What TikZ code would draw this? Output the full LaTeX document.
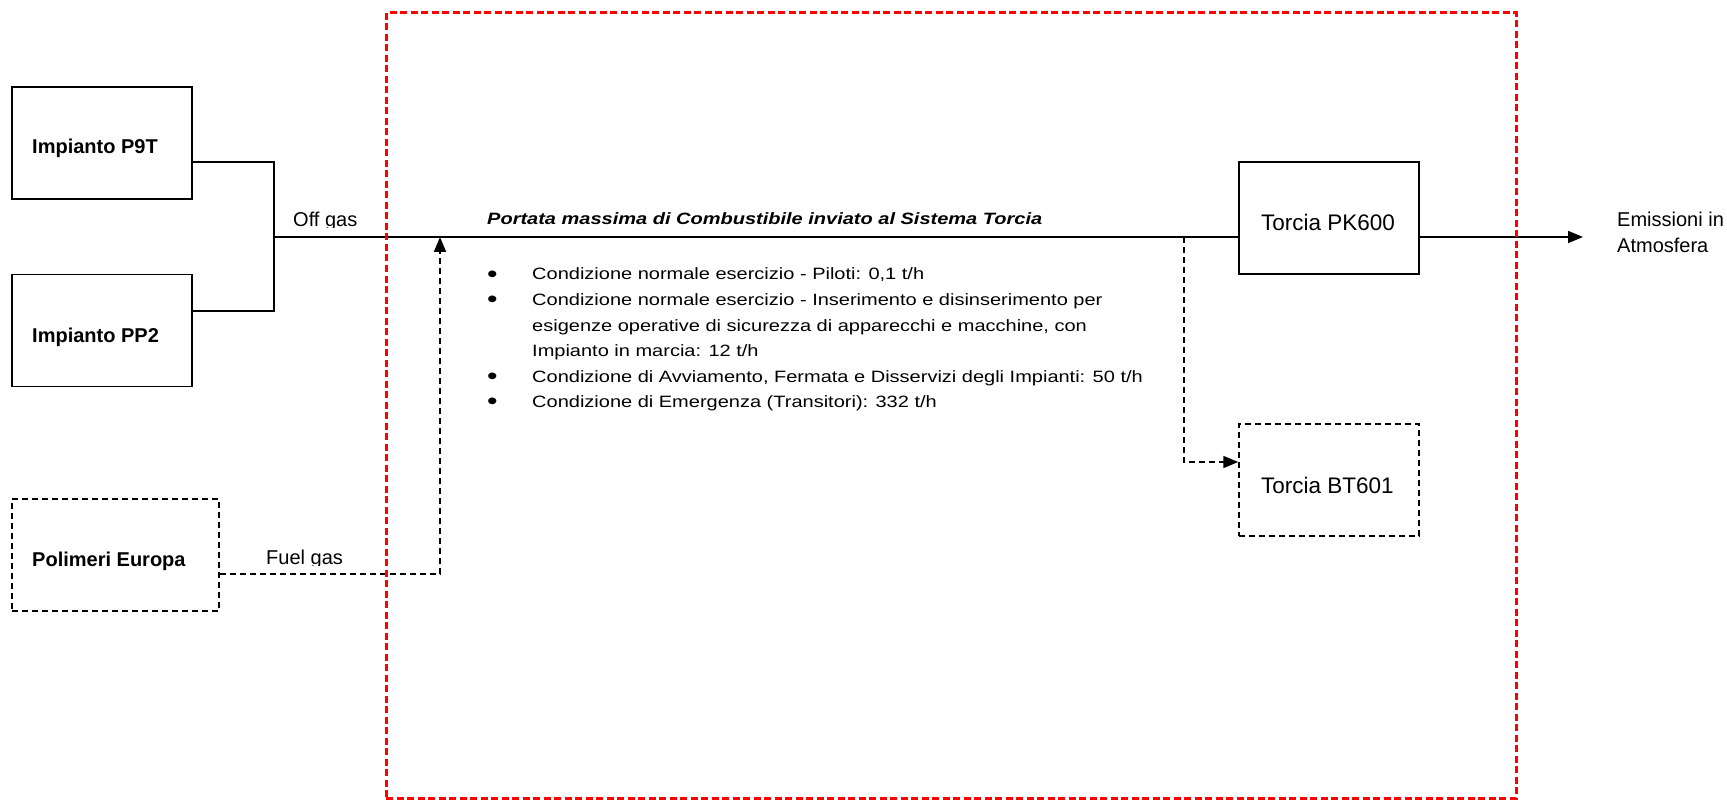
\documentclass[tikz,border=0pt]{standalone}
\usepackage{fontspec}
\setmainfont{Liberation Sans}
\usetikzlibrary{arrows.meta}
\newcommand{\bigbul}{{\fontsize{30}{30}\selectfont\raisebox{-2.5pt}{•}}}
\begin{document}
\begin{tikzpicture}[x=1pt,y=-1pt,
  box/.style={draw, line width=1.5pt, minimum width=180pt, minimum height=112pt, inner sep=0pt},
  dbox/.style={box, dash pattern=on 6pt off 4pt},
  lbl/.style={anchor=base west, inner sep=0pt, font=\fontsize{20}{26}\selectfont},
  blbl/.style={lbl, font=\fontsize{20}{26}\selectfont\bfseries},
  tlbl/.style={lbl, font=\fontsize{22.5}{27}\selectfont},
  conn/.style={line width=1.7pt},
  dconn/.style={conn, dash pattern=on 6pt off 4pt},
  tip/.style={-{Triangle[length=15pt,width=12pt]}},
  redbox/.style={draw=red, line width=3pt, dash pattern=on 7pt off 3.5pt, inner sep=0pt}
]
\fill[white] (0,0) rectangle (1727,802);
\useasboundingbox (0,0) rectangle (1727,802);

% boxes
\node[box] (p9t) at (102,143) {};
\node[blbl] (p9tl) at (32,154) {Impianto P9T};
\node[box] (pp2) at (102,330.5) {};
\node[blbl] (pp2l) at (32,342) {Impianto PP2};
\node[dbox, minimum width=207pt] (pe) at (115.5,555) {};
\node[blbl] (pel) at (32,566) {Polimeri Europa};
\node[box] (pk) at (1329,218) {};
\node[tlbl] (pkl) at (1261,231) {Torcia PK600};
\node[dbox] (bt) at (1329,480) {};
\node[tlbl] (btl) at (1261,493) {Torcia BT601};

% coordinates
\coordinate (j) at (274,237);
\coordinate (fin) at (440,237);
\coordinate (br) at (1184,237);
\coordinate (out) at (1583,237);

% connectors
\draw[conn] ([yshift=-19pt]p9t.east) -| (j);
\draw[conn] ([yshift=19.5pt]pp2.east) -| (j);
\draw[conn] (j) -- ([yshift=-19pt]pk.west);
\draw[dconn, tip] ([yshift=-19pt]pe.east) -| (fin);
\draw[dconn, tip] (br) |- ([yshift=18pt]bt.west);
\draw[conn, tip] ([yshift=-19pt]pk.east) -- (out);

% labels
\begin{scope}
\clip (280,200) rectangle (380,227.5);
\node[lbl] (off) at (293,227) {Off gas};
\end{scope}
\begin{scope}
\clip (250,540) rectangle (360,565);
\node[lbl] (fuel) at (266,564.5) {Fuel gas};
\end{scope}

\node[lbl] (em) at (1617,227) {\begin{tabular}[t]{@{}l@{}}Emissioni in\\Atmosfera\end{tabular}};

\node[lbl, font=\fontsize{20}{24}\selectfont\bfseries\itshape] (title) at (487,225)
  {\scalebox{1}[0.82]{Portata massima di Combustibile inviato al Sistema Torcia}};

\node[lbl] (list) at (487,280) {\scalebox{1}[0.82]{\fontsize{20}{31.2}\selectfont
  \begin{tabular}[t]{@{}p{45pt}@{}l@{}}
  \bigbul&Condizione normale esercizio - Piloti: 0,1 t/h\\
  \bigbul&Condizione normale esercizio - Inserimento e disinserimento per\\
   &esigenze operative di sicurezza di apparecchi e macchine, con\\
   &Impianto in marcia: 12 t/h\\
  \bigbul&Condizione di Avviamento, Fermata e Disservizi degli Impianti: 50 t/h\\
  \bigbul&Condizione di Emergenza (Transitori): 332 t/h
  \end{tabular}}};

% boundary
\node[redbox, minimum width=1130pt, minimum height=785pt] (area) at (951,405.5) {};
\end{tikzpicture}
\end{document}
